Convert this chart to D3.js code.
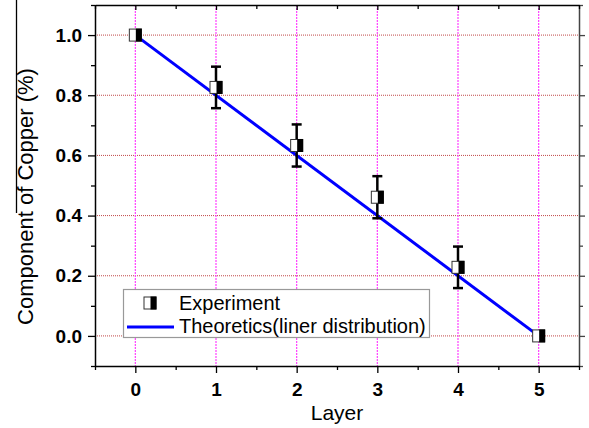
<!DOCTYPE html>
<html><head><meta charset="utf-8">
<script src="https://cdn.jsdelivr.net/npm/d3@7"></script>
<style>body{margin:0;background:#fff}svg{display:block}text{font-family:"Liberation Sans",Arial,sans-serif}</style>
</head><body><svg id="c" width="589" height="428"></svg>
<script>
const layers = [0, 1, 2, 3, 4, 5];
const experiment = [1.0, 0.826, 0.633, 0.461, 0.228, 0.0];
const errors = [0, 0.069, 0.07, 0.07, 0.069, 0];
const theoryX = [0, 5];
const theoryY = [1.0, 0.0];
const xTicks = [0, 1, 2, 3, 4, 5];
const yTicks = [0.0, 0.2, 0.4, 0.6, 0.8, 1.0];
const legendLabels = ["Experiment", "Theoretics(liner distribution)"];

const W = 589, H = 428;
const m = {l: 95, r: 10, t: 5, b: 62};
const svg = d3.select("#c");
const x = d3.scaleLinear().domain([-0.5, 5.5]).range([m.l, W - m.r]);
const y = d3.scaleLinear().domain([-0.1, 1.1]).range([H - m.b, m.t]);

// scan artifact line at the far left
svg.append("line").attr("x1", 16.5).attr("x2", 16.5).attr("y1", 0).attr("y2", 213).attr("stroke", "#000").attr("stroke-width", 1.3);

// grid
svg.append("g").selectAll("line").data(yTicks).join("line")
  .attr("x1", m.l).attr("x2", W - m.r)
  .attr("y1", d => y(d)).attr("y2", d => y(d))
  .attr("stroke", "#c04848").attr("stroke-width", 1).attr("stroke-dasharray", "1,1");
svg.append("g").selectAll("line").data(xTicks).join("line")
  .attr("x1", d => x(d)).attr("x2", d => x(d))
  .attr("y1", m.t).attr("y2", H - m.b)
  .attr("stroke", "#ff40ff").attr("stroke-width", 1.2).attr("stroke-dasharray", "2,1");

const yMinor = d3.range(-0.1, 1.1001, 0.1).map(v => +v.toFixed(2)).filter(v => !yTicks.includes(v));
const xMinor = d3.range(-0.5, 5.5001, 0.5).filter(v => !xTicks.includes(v));

function styleAxis(g, col) {
  g.select(".domain").attr("stroke", col || "#000").attr("stroke-width", 1.5);
  g.selectAll(".tick line").attr("stroke", col || "#000").attr("stroke-width", 1.3);
}
// left
const gl = svg.append("g").attr("transform", `translate(${m.l},0)`)
  .call(d3.axisLeft(y).tickValues(yTicks).tickSize(7).tickSizeOuter(0).tickPadding(6).tickFormat(d3.format(".1f")));
styleAxis(gl);
gl.selectAll("text").attr("font-size", 19).attr("font-weight", "bold").attr("fill", "#000");
svg.append("g").attr("transform", `translate(${m.l},0)`)
  .call(d3.axisLeft(y).tickValues(yMinor).tickSize(4).tickFormat("")).call(g => styleAxis(g)).select(".domain").remove();
// right
const gr = svg.append("g").attr("transform", `translate(${W - m.r},0)`)
  .call(d3.axisRight(y).tickValues(yTicks).tickSize(6).tickSizeOuter(0).tickFormat(""));
styleAxis(gr, "#444");
svg.append("g").attr("transform", `translate(${W - m.r},0)`)
  .call(d3.axisRight(y).tickValues(yMinor).tickSize(4).tickFormat("")).call(g => styleAxis(g, "#444")).select(".domain").remove();
// bottom
const gb = svg.append("g").attr("transform", `translate(0,${H - m.b})`)
  .call(d3.axisBottom(x).tickValues(xTicks).tickSize(7).tickSizeOuter(0).tickPadding(10).tickFormat(d3.format("d")));
styleAxis(gb);
gb.selectAll("text").attr("font-size", 19).attr("font-weight", "bold").attr("fill", "#000");
svg.append("g").attr("transform", `translate(0,${H - m.b})`)
  .call(d3.axisBottom(x).tickValues(xMinor).tickSize(4).tickFormat("")).call(g => styleAxis(g)).select(".domain").remove();
// top (ticks inward)
const gt = svg.append("g").attr("transform", `translate(0,${m.t})`)
  .call(d3.axisBottom(x).tickValues(xTicks).tickSize(5).tickSizeOuter(0).tickFormat(""));
styleAxis(gt);
svg.append("g").attr("transform", `translate(0,${m.t})`)
  .call(d3.axisBottom(x).tickValues(xMinor).tickSize(4).tickFormat("")).call(g => styleAxis(g)).select(".domain").remove();

// theory line
const pts = theoryX.map((v, i) => [v, theoryY[i]]);
svg.append("path").datum(pts)
  .attr("d", d3.line().x(d => x(d[0])).y(d => y(d[1])))
  .attr("fill", "none").attr("stroke", "#0000ff").attr("stroke-width", 3);

// error bars
const exp = layers.map((l, i) => ({l, v: experiment[i], e: errors[i]}));
const eb = svg.append("g").selectAll("g").data(exp.filter(d => d.e > 0)).join("g");
eb.append("line").attr("x1", d => x(d.l)).attr("x2", d => x(d.l))
  .attr("y1", d => y(d.v + d.e)).attr("y2", d => y(d.v - d.e)).attr("stroke", "#000").attr("stroke-width", 2.5);
eb.append("line").attr("x1", d => x(d.l) - 5).attr("x2", d => x(d.l) + 5)
  .attr("y1", d => y(d.v + d.e)).attr("y2", d => y(d.v + d.e)).attr("stroke", "#000").attr("stroke-width", 2.5);
eb.append("line").attr("x1", d => x(d.l) - 5).attr("x2", d => x(d.l) + 5)
  .attr("y1", d => y(d.v - d.e)).attr("y2", d => y(d.v - d.e)).attr("stroke", "#000").attr("stroke-width", 2.5);

function marker(g) {
  g.append("rect").attr("x", -6).attr("y", -6).attr("width", 12).attr("height", 12)
    .attr("fill", "#fff").attr("stroke", "#333").attr("stroke-width", 1);
  g.append("rect").attr("x", 0.5).attr("y", -6.5).attr("width", 6).attr("height", 13).attr("fill", "#000");
}
svg.append("g").selectAll("g").data(exp).join("g")
  .attr("transform", d => `translate(${x(d.l)},${y(d.v)})`).each(function() { marker(d3.select(this)); });

// legend
const lg = svg.append("g");
lg.append("rect").attr("x", 123.5).attr("y", 289.5).attr("width", 306).attr("height", 48)
  .attr("fill", "#fff").attr("stroke", "#999").attr("stroke-width", 1.2);
marker(lg.append("g").attr("transform", "translate(150,303)"));
lg.append("text").attr("x", 179).attr("y", 310).attr("font-size", 20).text(legendLabels[0]);
lg.append("line").attr("x1", 127).attr("x2", 174).attr("y1", 327).attr("y2", 327).attr("stroke", "#0000ff").attr("stroke-width", 3);
lg.append("text").attr("x", 179).attr("y", 333).attr("font-size", 20).text(legendLabels[1]);

// axis titles
svg.append("text").attr("x", x(2.5)).attr("y", 420).attr("text-anchor", "middle").attr("font-size", 21).text("Layer");
svg.append("text").attr("transform", "translate(33,196.5) rotate(-90)").attr("text-anchor", "middle").attr("font-size", 22).text("Component of Copper (%)");
</script></body></html>
